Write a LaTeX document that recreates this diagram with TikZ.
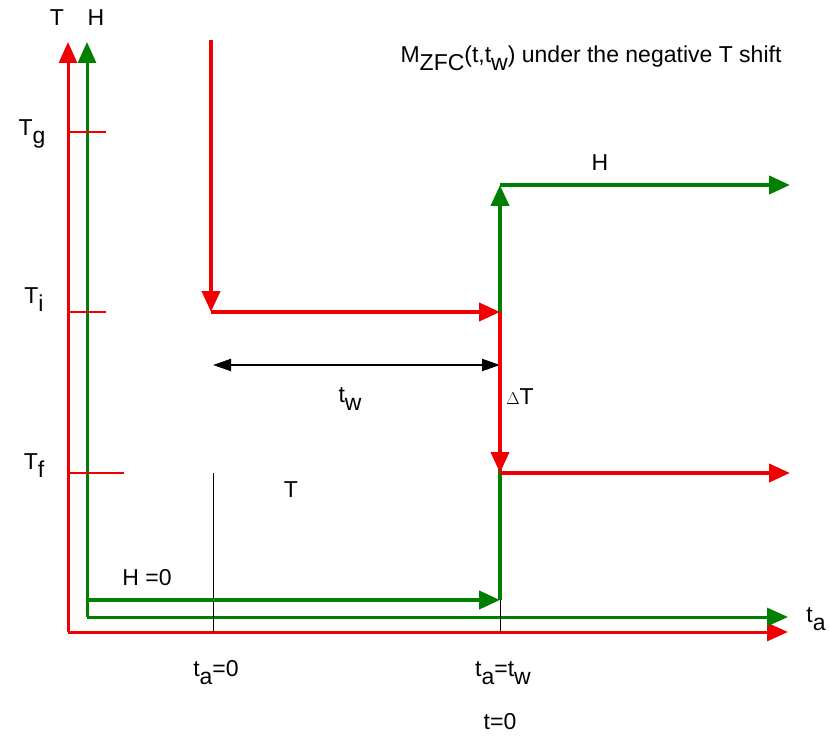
\documentclass[tikz,border=0pt]{standalone}
\usepackage{fontspec}
\setmainfont{Liberation Sans}
\usetikzlibrary{arrows.meta}
\definecolor{rd}{RGB}{240,0,0}
\definecolor{gn}{RGB}{0,128,0}
\newcommand{\lowidx}[1]{\raisebox{-0.35em}{#1}}
\begin{document}
\begin{tikzpicture}[x=1pt,y=-1pt,
  lbl/.style={font=\fontsize{23}{26}\selectfont, inner sep=0pt},
  tip/.style={-{Triangle[length=21pt,width=18pt]}},
  rline/.style={draw=rd, line width=4pt},
  gline/.style={draw=gn, line width=4pt},
  raxis/.style={draw=rd, line width=3pt},
  gaxis/.style={draw=gn, line width=3pt},
  tick/.style={draw=rd, line width=1.5pt},
  thin/.style={draw=black, line width=1pt}]
\useasboundingbox[fill=white] (0,0) rectangle (830,738);
% coordinates
\coordinate (rO) at (68,632);
\coordinate (rTop) at (68,42);
\coordinate (rEnd) at (788,632);
\coordinate (gO) at (87,617);
\coordinate (gTop) at (87,42);
\coordinate (gEnd) at (788,617);
\coordinate (tg0) at (68,132); \coordinate (tg1) at (106,132);
\coordinate (ti0) at (68,312); \coordinate (ti1) at (106,312);
\coordinate (tf0) at (68,473); \coordinate (tf1) at (124,473);
\coordinate (p0) at (211,40);
\coordinate (p1) at (211,312);
\coordinate (p2) at (500,312);
\coordinate (p3) at (500,473);
\coordinate (p4) at (790,473);
\coordinate (h0) at (87,600);
\coordinate (h1) at (500,600);
\coordinate (h2) at (500,185);
\coordinate (h3) at (790,185);
\coordinate (w0) at (213,365);
\coordinate (w1) at (500,365);
\coordinate (v0) at (213,473);
\coordinate (v1) at (213,632);
\coordinate (u0) at (500,600);
\coordinate (u1) at (500,632);
% axes
\draw[raxis, tip] (rO) -- (rTop);
\draw[raxis, tip] (rO) -- (rEnd);
\draw[gaxis, tip] (gO) -- (gTop);
\draw[gaxis, tip] (gO) -- (gEnd);
% ticks
\draw[tick] (tg0) -- (tg1);
\draw[tick] (ti0) -- (ti1);
\draw[tick] (tf0) -- (tf1);
% thin lines
\draw[thin] (v0) -- (v1);
\draw[thin] (u0) -- (u1);
\draw[draw=black, line width=2pt, {Triangle[length=18pt,width=12pt]}-{Triangle[length=18pt,width=12pt]}] (w0) -- (w1);
% green field
\draw[gline, tip] (h0) -- (h1);
\draw[gline, tip] (h1) -- (h2);
\draw[gline, tip] (h2) -- (h3);
% red temperature
\draw[rline, tip] (p0) -- (p1);
\draw[rline, tip] (p1) -- (p2);
\draw[rline, tip] (p2) -- (p3);
\draw[rline, tip] (p3) -- (p4);
% labels
\node[lbl] (lT) at (57,18) {T};
\node[lbl] (lH) at (96,18) {H};
\node[lbl] (lTg) at (32,134) {T\lowidx{g}};
\node[lbl] (lTi) at (34,300) {T\lowidx{i}};
\node[lbl] (lTf) at (34,466) {T\lowidx{f}};
\node[lbl] (lta) at (816,619) {t\lowidx{a}};
\node[lbl] (ltitle) at (591,58) {M\lowidx{ZFC}(t,t\lowidx{w}) under the negative T shift};
\node[lbl] (lHup) at (600,163) {H};
\node[lbl] (ltw) at (350,399) {t\lowidx{w}};
\node[lbl] (ldT) at (520,397) {$\scriptstyle\Delta$T};
\node[lbl] (lT2) at (291,490) {T};
\node[lbl] (lH0) at (147,578) {H =0};
\node[lbl] (lta0) at (216,673) {t\lowidx{a}=0};
\node[lbl] (ltatw) at (503,673) {t\lowidx{a}=t\lowidx{w}};
\node[lbl] (lt0) at (500,722) {t=0};
\end{tikzpicture}
\end{document}
